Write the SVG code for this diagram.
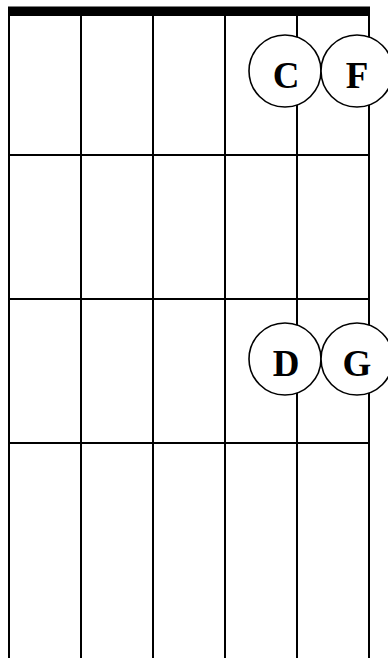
<svg xmlns="http://www.w3.org/2000/svg" width="388" height="658" viewBox="0 0 388 658">
<style>
.str{stroke:#000;stroke-width:2;fill:none}
.fret{stroke:#000;stroke-width:2;fill:none}
.dot circle{fill:#fff;stroke:#000;stroke-width:1.6}
.dot text{font-family:"Liberation Serif","Times New Roman",serif;font-weight:bold;font-size:37px;text-anchor:middle;fill:#000}
</style>
<rect width="388" height="658" fill="#fff"/>
<g id="fretboard">
<rect id="nut" x="8" y="6.5" width="362" height="9.5" fill="#000"/>
<g id="strings" class="str">
<line x1="9" y1="10" x2="9" y2="658"/>
<line x1="81" y1="10" x2="81" y2="658"/>
<line x1="153" y1="10" x2="153" y2="658"/>
<line x1="225" y1="10" x2="225" y2="658"/>
<line x1="297" y1="10" x2="297" y2="658"/>
<line x1="369" y1="10" x2="369" y2="658"/>
</g>
<g id="frets" class="fret">
<line x1="9" y1="155" x2="369" y2="155"/>
<line x1="9" y1="299" x2="369" y2="299"/>
<line x1="9" y1="443" x2="369" y2="443"/>
</g>
</g>
<g id="note-C" class="dot"><circle cx="285" cy="71" r="36"/><text x="286" y="88">C</text></g>
<g id="note-F" class="dot"><circle cx="357" cy="71" r="36"/><text x="357" y="88">F</text></g>
<g id="note-D" class="dot"><circle cx="285" cy="359" r="36"/><text x="286" y="376">D</text></g>
<g id="note-G" class="dot"><circle cx="357" cy="359" r="36"/><text x="357" y="376">G</text></g>
</svg>
